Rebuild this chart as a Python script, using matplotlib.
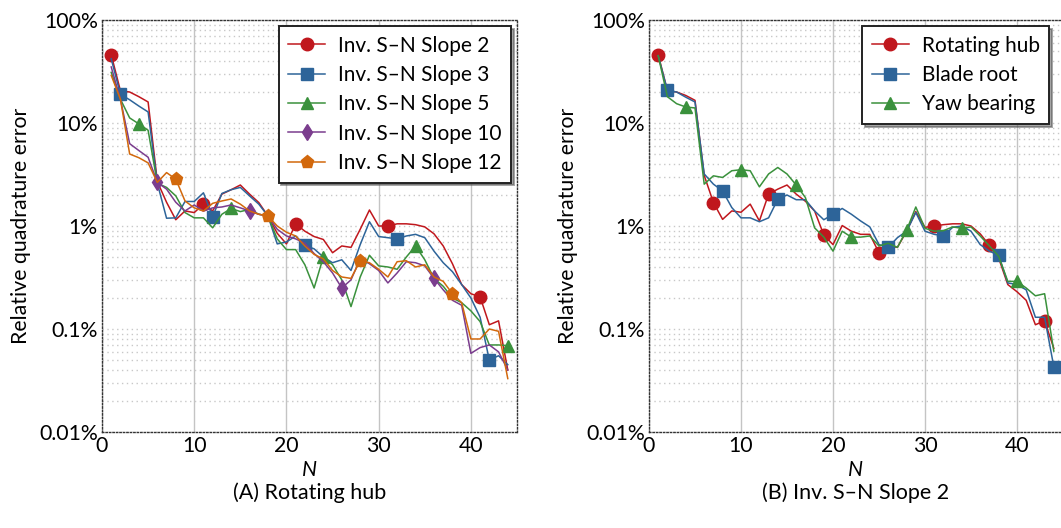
import matplotlib
matplotlib.use("Agg")
import matplotlib.pyplot as plt
from matplotlib.ticker import LogLocator, NullFormatter

plt.rcParams["font.family"] = ["Lato", "DejaVu Sans"]

N = list(range(1, 45))

# panel A: rotating hub, relative error in %
slope2 = [46, 20.5, 20, 18, 16, 2.7, 1.7, 1.15, 1.4, 1.35,
          1.63, 1.4, 2.04, 2.25, 2.5, 2.04, 1.69, 1.25, 0.85, 0.67,
          1.05, 0.89, 0.79, 0.74, 0.55, 0.64, 0.62, 0.93, 1.43, 1.0,
          1.0, 1.05, 1.05, 1.03, 0.98, 0.84, 0.64, 0.43, 0.27, 0.22,
          0.205, 0.11, 0.12, 0.04]
slope3 = [42, 19, 16.8, 14.6, 12.8, 2.6, 1.19, 1.2, 1.73, 1.73,
          2.1, 1.23, 2.07, 2.25, 2.37, 1.96, 1.63, 1.25, 0.67, 0.70,
          0.80, 0.65, 0.6, 0.5, 0.44, 0.47, 0.37, 0.66, 1.10, 0.79,
          0.77, 0.75, 0.80, 0.83, 0.77, 0.57, 0.44, 0.36, 0.27, 0.2,
          0.13, 0.05, 0.055, 0.045]
slope5 = [31, 17, 11.2, 9.8, 8.5, 2.6, 2.37, 1.96, 1.35, 1.2,
          1.2, 0.96, 1.3, 1.48, 1.38, 1.45, 1.3, 1.25, 0.75, 0.59,
          0.59, 0.42, 0.25, 0.50, 0.42, 0.3, 0.165, 0.32, 0.52, 0.41,
          0.40, 0.38, 0.5, 0.64, 0.47, 0.31, 0.26, 0.2, 0.18, 0.15,
          0.118, 0.07, 0.07, 0.069]
slope10 = [35, 17, 6.3, 5.4, 4.65, 2.65, 2.28, 1.7, 1.4, 1.6,
           1.4, 1.5, 1.53, 1.6, 1.5, 1.40, 1.3, 1.25, 0.93, 0.8,
           0.75, 0.68, 0.54, 0.45, 0.35, 0.25, 0.30, 0.48, 0.43, 0.37,
           0.28, 0.35, 0.45, 0.44, 0.41, 0.31, 0.24, 0.19, 0.17, 0.058,
           0.066, 0.07, 0.06, 0.04]
slope12 = [29, 17, 5.0, 4.6, 4.1, 2.65, 3.3, 2.85, 1.75, 1.5,
           1.4, 1.66, 1.75, 1.83, 1.63, 1.4, 1.3, 1.25, 1.0, 0.87,
           0.8, 0.64, 0.53, 0.48, 0.37, 0.32, 0.31, 0.46, 0.44, 0.38,
           0.32, 0.45, 0.46, 0.40, 0.42, 0.32, 0.29, 0.22, 0.18, 0.08,
           0.08, 0.10, 0.095, 0.033]

# panel B: inv. S-N slope 2, per location
hub = [46, 20.7, 20, 18.5, 16.6, 3.1, 1.69, 1.16, 1.4, 1.36,
       1.63, 1.12, 2.04, 2.28, 2.5, 2.04, 1.74, 1.4, 0.82, 0.66,
       1.01, 0.89, 0.83, 0.83, 0.55, 0.64, 0.62, 0.89, 1.38, 0.97,
       1.0, 1.03, 1.05, 1.05, 1.0, 0.84, 0.65, 0.49, 0.27, 0.23,
       0.19, 0.11, 0.12, 0.065]
blade_root = [45, 20.7, 20, 17.8, 16, 3.2, 2.55, 2.19, 1.51, 1.2,
              1.2, 1.1, 1.2, 1.82, 2.0, 1.8, 1.8, 1.4, 1.15, 1.3,
              1.48, 1.3, 1.12, 0.98, 0.66, 0.62, 0.77, 0.89, 1.35, 0.89,
              0.83, 0.8, 0.97, 1.0, 0.89, 0.66, 0.57, 0.52, 0.28, 0.27,
              0.24, 0.13, 0.13, 0.043]
yaw = [45, 18, 15.4, 14.3, 14, 2.55, 3.07, 2.96, 3.44, 3.52,
       3.44, 2.4, 3.2, 3.7, 3.2, 2.5, 1.89, 0.96, 0.78, 0.57,
       0.89, 0.78, 0.78, 0.8, 0.64, 0.68, 0.62, 0.91, 1.53, 0.95,
       0.89, 0.9, 0.98, 0.95, 0.98, 0.8, 0.64, 0.51, 0.29, 0.29,
       0.25, 0.21, 0.22, 0.061]

RED, BLUE, GREEN, PURPLE, ORANGE = "#c0171d", "#2d6499", "#3a913c", "#7b3d8e", "#d2680c"
FS = 15.3
LEG_FS = 15

left_series = [
    ("Inv. S\u2013N Slope 2", slope2, RED, "o", 0, 9),
    ("Inv. S\u2013N Slope 3", slope3, BLUE, "s", 1, 9),
    ("Inv. S\u2013N Slope 5", slope5, GREEN, "^", 3, 9),
    ("Inv. S\u2013N Slope 10", slope10, PURPLE, "d", 5, 8),
    ("Inv. S\u2013N Slope 12", slope12, ORANGE, "p", 7, 9.5),
]
right_series = [
    ("Rotating hub", hub, RED, "o", 0, 9),
    ("Blade root", blade_root, BLUE, "s", 1, 9),
    ("Yaw bearing", yaw, GREEN, "^", 3, 9),
]

fig = plt.figure(figsize=(10.61, 5.28), dpi=100)
ax_a = fig.add_axes([102 / 1061, 96 / 528, 415 / 1061, 412 / 528])
ax_b = fig.add_axes([649 / 1061, 96 / 528, 414 / 1061, 412 / 528])


def style(ax):
    ax.set_yscale("log")
    ax.set_ylim(0.01, 100)
    ax.set_xlim(0, 45)
    ax.set_xticks([0, 10, 20, 30, 40])
    ax.set_yticks([0.01, 0.1, 1, 10, 100])
    ax.set_yticklabels(["0.01%", "0.1%", "1%", "10%", "100%"])
    ax.yaxis.set_minor_locator(LogLocator(base=10, subs=range(2, 10)))
    ax.yaxis.set_minor_formatter(NullFormatter())
    ax.tick_params(which="both", length=0, labelsize=FS, pad=3)
    ax.grid(True, axis="y", which="both", color="#c8c8c8", linestyle=(0, (1, 2.5)), lw=1)
    ax.grid(True, axis="x", which="major", color="#c4c4c4", linestyle="-", lw=1)
    for sp in ax.spines.values():
        sp.set_linestyle((0, (1, 1.5)))
        sp.set_color("#333333")
        sp.set_linewidth(1)
    ax.set_xlabel("N", fontsize=FS, fontstyle="italic", labelpad=3)
    ax.set_ylabel("Relative quadrature error", fontsize=FS, labelpad=6)


for ax, series, every, anchor_x in [(ax_a, left_series, 10, 1.0), (ax_b, right_series, 6, 0.981)]:
    style(ax)
    for label, vals, col, mk, start, ms in series:
        ax.plot(N, vals, color=col, lw=1.1, marker=mk, ms=ms, markevery=(start, every),
                label=label)
    leg = ax.legend(loc="upper right", bbox_to_anchor=(anchor_x, 1.0), fontsize=LEG_FS,
                    fancybox=False, shadow=True, framealpha=1, edgecolor="#222222",
                    handlelength=1.8, handletextpad=0.6, borderpad=0.45,
                    labelspacing=0.45, borderaxespad=0.3)
    leg.get_frame().set_linewidth(1.4)

fig.text((102 + 517) / 2 / 1061, 1 - 493 / 528, "(A) Rotating hub", ha="center", va="center", fontsize=15.5)
fig.text((649 + 1063) / 2 / 1061, 1 - 493 / 528, "(B) Inv. S\u2013N Slope 2", ha="center", va="center", fontsize=15.5)

fig.savefig("out.png", dpi=100)
